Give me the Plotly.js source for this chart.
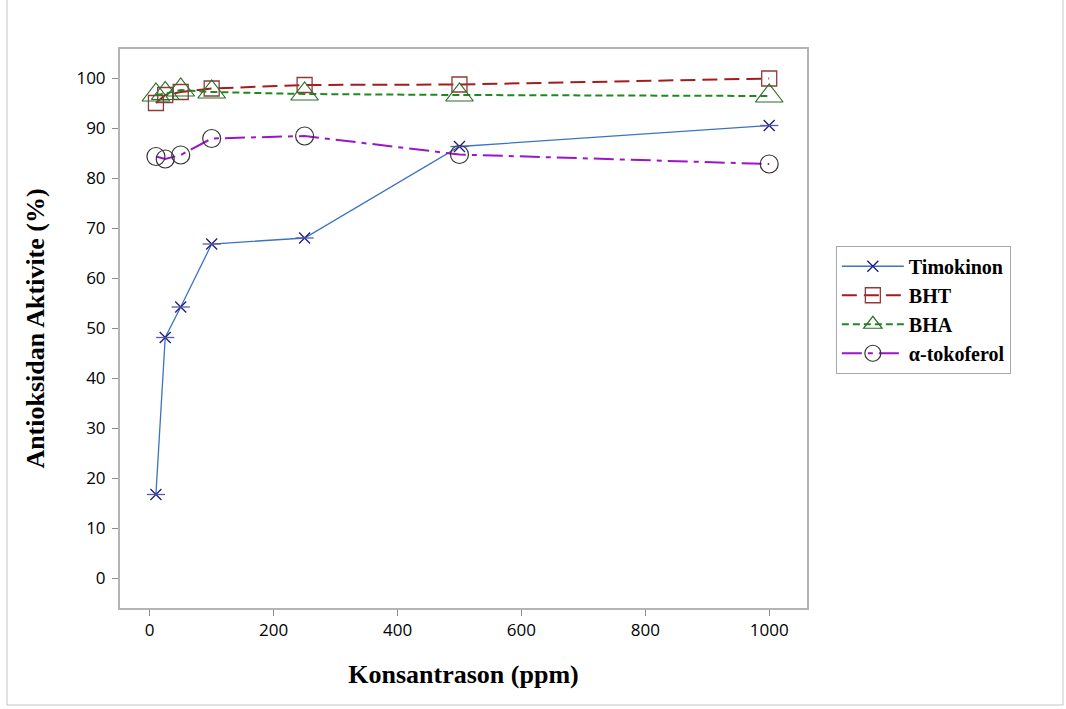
<!DOCTYPE html>
<html>
<head>
<meta charset="utf-8">
<script src="https://cdn.plot.ly/plotly-3.0.1.min.js"></script>
<style>
  html, body { margin: 0; padding: 0; background: #fff; }
  #chart { width: 1066px; height: 709px; }
</style>
</head>
<body>
<div id="chart"></div>
<script>
// Concentrations (ppm) and antioxidant activity (%) of each compound
const concentration = [10, 25, 50, 100, 250, 500, 1000];
const timokinon = [16.7, 48.1, 54.2, 66.8, 68.0, 86.3, 90.5];
const bht = [95.0, 96.6, 97.2, 97.9, 98.6, 98.7, 99.9];
const bha = [96.6, 96.9, 97.6, 97.2, 96.8, 96.6, 96.4];
const tokoferol = [84.3, 83.8, 84.6, 87.9, 88.4, 84.7, 82.8];

const seriesNames = ['Timokinon', 'BHT', 'BHA', 'α-tokoferol'];
const xTicks = [0, 200, 400, 600, 800, 1000];
const yTicks = [0, 10, 20, 30, 40, 50, 60, 70, 80, 90, 100];

const traces = [
  {
    x: concentration, y: timokinon, name: seriesNames[0], type: 'scatter', mode: 'lines+markers',
    line: { color: '#3b73c2', width: 1.3 },
    marker: { symbol: 'x-thin-open', size: 11, color: '#1c1c82', line: { width: 1.3, color: '#1c1c82' } }
  },
  {
    // horizontal stroke completing the star-shaped marker
    x: concentration, y: timokinon, type: 'scatter', mode: 'markers', showlegend: false, hoverinfo: 'skip',
    marker: { symbol: 'line-ew-open', size: 13, color: '#5a5aa8', line: { width: 1.3, color: '#5a5aa8' } }
  },
  {
    x: concentration, y: bht, name: seriesNames[1], type: 'scatter', mode: 'lines+markers',
    line: { color: '#a51c1c', width: 2, dash: '15px,7px' },
    marker: { symbol: 'square-open', size: 15, color: '#8e3b3b', line: { width: 1.3, color: '#8e3b3b' } }
  },
  {
    x: concentration, y: bha, name: seriesNames[2], type: 'scatter', mode: 'lines+markers',
    line: { color: '#1e8a1e', width: 2, dash: '7px,4px' },
    marker: { symbol: 'triangle-up-open', size: 24, color: '#2d6e2d', line: { width: 1.2, color: '#2d6e2d' } }
  },
  {
    x: concentration, y: tokoferol, name: seriesNames[3], type: 'scatter', mode: 'lines+markers',
    line: { color: '#9a16c8', width: 2, dash: '20px,6px,5px,6px' },
    marker: { symbol: 'circle-open', size: 18, color: '#333333', line: { width: 1.2, color: '#333333' } }
  }
];

const borderColor = '#c4c4c4';
const tickFont = { family: 'Open Sans, sans-serif', size: 17, color: '#000' };
const titleFont = { family: 'Liberation Serif, serif', size: 26, color: '#000', weight: 'bold' };

const layout = {
  width: 1066, height: 709,
  margin: { l: 120, r: 259, t: 49, b: 101 },
  paper_bgcolor: '#ffffff', plot_bgcolor: '#ffffff',
  font: { family: 'Open Sans, sans-serif', size: 16, color: '#000' },
  showlegend: true,
  legend: {
    x: 1.042, y: 0.648, xanchor: 'left', yanchor: 'top',
    bordercolor: '#a8a8a8', borderwidth: 1, bgcolor: '#fff',
    font: { family: 'Liberation Serif, serif', size: 20, color: '#000', weight: 'bold' },
    tracegroupgap: 0, itemwidth: 62
  },
  xaxis: {
    range: [-48, 1061], tickvals: xTicks, ticktext: xTicks.map(String),
    showgrid: false, zeroline: false,
    showline: true, linecolor: '#b4b4b4', linewidth: 2, mirror: true,
    ticks: 'outside', ticklen: 6, tickcolor: '#8c8c8c', tickwidth: 1,
    tickfont: tickFont,
    title: { text: 'Konsantrason (ppm)', standoff: 24, font: titleFont }
  },
  yaxis: {
    range: [-6, 105.8], tickvals: yTicks, ticktext: yTicks.map(String),
    showgrid: false, zeroline: false,
    showline: true, linecolor: '#b4b4b4', linewidth: 2, mirror: true,
    ticks: 'outside', ticklen: 6, tickcolor: '#8c8c8c', tickwidth: 1,
    ticklabelstandoff: 3,
    tickfont: tickFont,
    title: { text: 'Antioksidan Aktivite (%)', standoff: 24, font: titleFont }
  },
  shapes: [
    { type: 'line', xref: 'paper', yref: 'paper', x0: -0.1645, x1: -0.1645, y0: -0.1735, y1: 1.1, line: { color: borderColor, width: 1 } },
    { type: 'line', xref: 'paper', yref: 'paper', x0: 1.3726, x1: 1.3726, y0: -0.1735, y1: 1.1, line: { color: borderColor, width: 1 } },
    { type: 'line', xref: 'paper', yref: 'paper', x0: -0.1645, x1: 1.3726, y0: -0.1735, y1: -0.1735, line: { color: borderColor, width: 1 } }
  ]
};

Plotly.newPlot('chart', traces, layout, { displayModeBar: false, staticPlot: true });
</script>
</body>
</html>
